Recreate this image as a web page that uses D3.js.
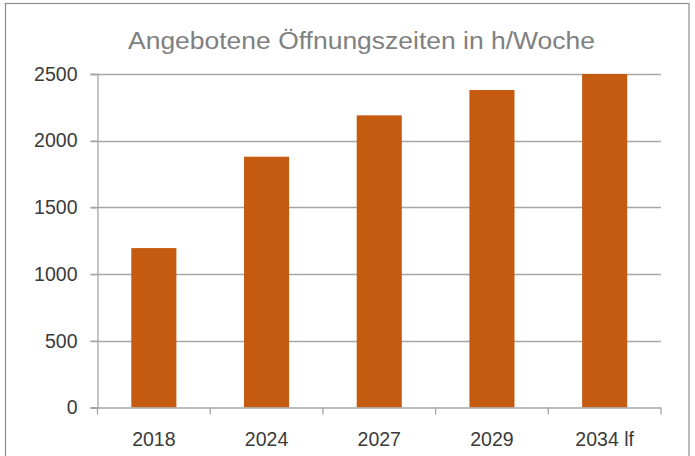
<!DOCTYPE html>
<html><head><meta charset="utf-8">
<script src="https://cdn.jsdelivr.net/npm/d3@7"></script>
<style>body{margin:0;background:#fff}svg{display:block}</style>
</head><body>
<script>
const categories = ["2018", "2024", "2027", "2029", "2034 lf"];
const values = [1195, 1880, 2190, 2380, 2500];
const yTicks = [0, 500, 1000, 1500, 2000, 2500];
const title = "Angebotene Öffnungszeiten in h/Woche";

const W = 695, H = 456;
const svg = d3.select("body").append("svg").attr("width", W).attr("height", H);
svg.append("rect").attr("width", W).attr("height", H).attr("fill", "#fff");
svg.append("rect").attr("x", 5.5).attr("y", 3.5).attr("width", 683.5).attr("height", 520)
  .attr("fill", "none").attr("stroke", "#8c8c8c").attr("stroke-width", 1.2);

const L = 97.5, R = 661, T = 74, B = 407.5;
const x = d3.scaleBand().domain(categories).range([L, R]).paddingInner(0.6).paddingOuter(0.3);
const y = d3.scaleLinear().domain([0, 2500]).range([B, T]);
const font = "Liberation Sans, Arial, sans-serif";

// gridlines
svg.append("g").selectAll("line").data(yTicks.filter(d => d > 0)).join("line")
  .attr("x1", L - 7).attr("x2", R).attr("y1", d => Math.round(y(d)) + 0.5).attr("y2", d => Math.round(y(d)) + 0.5)
  .attr("stroke", "#a6a6a6").attr("stroke-width", 1.3);

// bars
svg.append("g").selectAll("rect").data(values).join("rect")
  .attr("x", (d, i) => x(categories[i])).attr("width", x.bandwidth())
  .attr("y", d => y(d)).attr("height", d => y(0) - y(d))
  .attr("fill", "#c55a11");

// y axis
const yAxis = d3.axisLeft(y).tickValues(yTicks).tickSize(7).tickPadding(13).tickFormat(d3.format("d"));
const gy = svg.append("g").attr("transform", `translate(${L},0)`).call(yAxis);
gy.select(".domain").attr("stroke", "#a6a6a6").attr("stroke-width", 1.3);
gy.selectAll(".tick line").attr("stroke", "#a6a6a6").attr("stroke-width", 1.3);
gy.selectAll(".tick text").attr("font-family", font)
  .attr("font-size", 19.5).attr("fill", "#3a3a3a");

// x axis
const xPos = d3.scalePoint().domain(d3.range(categories.length + 1)).range([L, R]);
const gx = svg.append("g").attr("transform", `translate(0,${B})`);
gx.append("line").attr("x1", L - 7).attr("x2", R).attr("y1", 0.5).attr("y2", 0.5)
  .attr("stroke", "#a6a6a6").attr("stroke-width", 1.3);
gx.selectAll("line.tk").data(d3.range(categories.length + 1)).join("line").attr("class", "tk")
  .attr("x1", d => xPos(d)).attr("x2", d => xPos(d)).attr("y1", 0).attr("y2", 7)
  .attr("stroke", "#a6a6a6").attr("stroke-width", 1.3);
gx.selectAll("text").data(categories).join("text")
  .attr("x", d => x(d) + x.bandwidth() / 2).attr("y", 38)
  .attr("text-anchor", "middle")
  .attr("font-family", font).attr("font-size", 19.5)
  .attr("fill", "#3a3a3a").text(d => d);

// title
svg.append("text").attr("x", 361.5).attr("y", 48.5).attr("text-anchor", "middle")
  .attr("font-family", font).attr("font-size", 23)
  .attr("fill", "#808080").attr("textLength", 467).attr("lengthAdjust", "spacingAndGlyphs")
  .text(title);
</script>
</body></html>
